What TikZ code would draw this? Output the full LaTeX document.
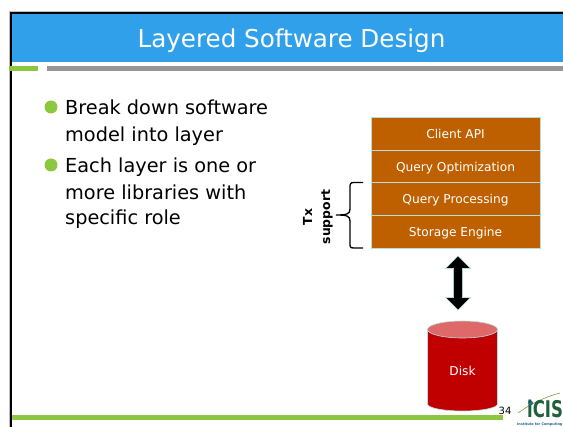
\documentclass[tikz,border=0pt]{standalone}
\usepackage{fontspec}
\setmainfont{DejaVu Sans}
\usetikzlibrary{positioning}
\usetikzlibrary{calc}
\usetikzlibrary{shapes.arrows}

\definecolor{titleblue}{HTML}{30A0EA}
\definecolor{barGreen}{HTML}{8DC63F}
\definecolor{barGray}{HTML}{969696}
\definecolor{layerfill}{HTML}{BF6000}
\definecolor{layerline}{HTML}{B5DDE0}
\definecolor{diskred}{HTML}{C00000}
\definecolor{disktop}{HTML}{DF6969}
\definecolor{logogreen}{HTML}{1F5F3A}

\tikzset{
  layer/.style={draw=layerline, line width=0.7pt, fill=layerfill, text=white, outer sep=0pt,
    minimum width=169pt, minimum height=32.8pt, inner sep=0pt, text height=9.5pt, text depth=0pt,
    font=\fontsize{12.2}{14}\selectfont},
  bullettext/.style={anchor=base west, inner sep=0pt, font=\fontsize{19.3}{22}\selectfont},
  bulletdot/.style={circle, fill=barGreen, minimum size=13pt, inner sep=0pt},
}

\begin{document}
\begin{tikzpicture}[x=1pt,y=-1pt]

  \useasboundingbox (0,0) rectangle (563,427);
  \clip (0,0) rectangle (563,427);
  \fill[white] (0,0) rectangle (563,427);

  % Slide frame and title band
  \fill[barGray!60] (9,11) rectangle (563,12);
  \fill[barGray!60] (9,11) rectangle (10,427);
  \fill[black] (10,12) rectangle (563,14);
  \fill[black] (10,12) rectangle (12,427);
  \fill[titleblue] (12,14) rectangle (563,62);
  \node[text=white, inner sep=0pt, font=\fontsize{24.6}{28}\selectfont] (title) at (291.5,41) {Layered Software Design};

  % Bars under the title and at the foot
  \fill[barGreen] (9,66) rectangle (38,71);
  \fill[barGray] (47,66) rectangle (563,71);
  \fill[barGreen] (12,415) rectangle (503,420);

  % Bullets
  \node[bulletdot] (dot1) at (51,107) {};
  \node[bulletdot] (dot2) at (51,165) {};
  \node[bullettext] (line1) at (65,115) {Break down software};
  \node[bullettext] (line2) at (65,142) {model into layer};
  \node[bullettext] (line3) at (65,173) {Each layer is one or};
  \node[bullettext] (line4) at (65,200) {more libraries with};
  \node[bullettext] (line5) at (65,225) {specific role};

  % Layer stack
  \node[layer] (client) at (455.5,133.5) {Client API};
  \node[layer, below=0pt of client] (optim) {Query Optimization};
  \node[layer, below=0pt of optim] (proc) {Query Processing};
  \node[layer, below=0pt of proc] (storage) {Storage Engine};

  % Tx support brace
  \coordinate (bracetop) at (363,182.5);
  \coordinate (bracebot) at (363,248);
  \coordinate (bracetip) at (336,215);
  \draw[line width=1.3pt] (bracetop) -- (354,182.5) .. controls (350,182.5) and (350,184) .. (350,188)
    -- (350,209) .. controls (350,214) and (347,215) .. (bracetip)
    (bracetip) .. controls (347,215) and (350,216) .. (350,221)
    -- (350,243) .. controls (350,247) and (350,248) .. (354,248) -- (bracebot);
  \node[rotate=90, align=center, inner sep=0pt, font=\fontsize{12.4}{18}\selectfont\bfseries] (tx) at (318,217) {Tx\\support};

  % Disk and arrow
  \node[double arrow, draw=layerline, line width=0.6pt, fill=black, rotate=90, minimum height=54pt,
    minimum width=25pt, double arrow head extend=6pt, inner sep=3pt] (link) at (458,283) {};
  \draw[layerline, line width=0.6pt, fill=diskred] (427.5,329.5) -- (427.5,404)
    arc[start angle=180, end angle=360, x radius=35, y radius=-7] -- (497.5,329.5) -- cycle;
  \draw[layerline, line width=0.6pt, fill=disktop] (462.5,329.5) ellipse [x radius=35, y radius=8.5];
  \node[text=white, inner sep=0pt, font=\fontsize{12.2}{14}\selectfont] (disklabel) at (462.5,371) {Disk};

  % Page number and logo
  \node[inner sep=0pt, font=\fontsize{10}{10}\selectfont] (page) at (505,411) {34};
  \draw[barGreen!70!black, line width=0.5pt] (518,413) .. controls (532,403) and (545,397) .. (560,393);
  \node[circle, fill=titleblue!70!black, minimum size=5pt, inner sep=0pt] (logodot) at (530.5,403) {};
  \node[anchor=base west, xscale=0.72, inner sep=0pt, text=logogreen, font=\fontsize{23}{25}\selectfont\bfseries] (logo) at (527,418) {iCIS};
  \node[anchor=base west, inner sep=0pt, text=titleblue!60!black, font=\fontsize{3.4}{4}\selectfont\bfseries] (logotext) at (517,425.5) {Institute for Computing};

\end{tikzpicture}
\end{document}
